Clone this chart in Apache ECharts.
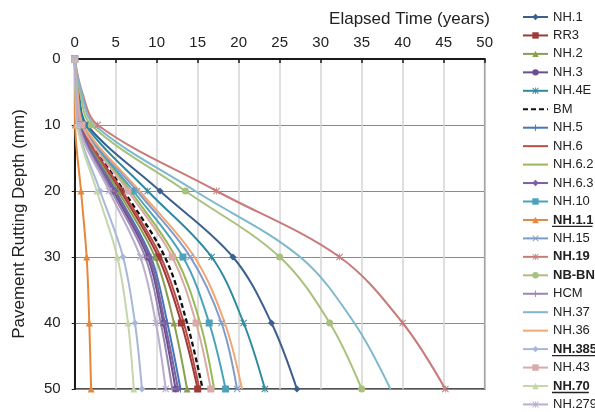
<!DOCTYPE html>
<html><head><meta charset="utf-8">
<script src="https://cdn.jsdelivr.net/npm/echarts@6/dist/echarts.min.js"></script>
<style>html,body{margin:0;padding:0;background:#fff}#c{width:595px;height:412px}</style>
</head><body><div id="c"></div>
<script>
// Rutting depth (mm) at which elapsed times were read
const depths = [0, 5, 10, 20, 30, 40, 50];
const xTicks = [0, 5, 10, 15, 20, 25, 30, 35, 40, 45, 50];
const yTicks = [0, 10, 20, 30, 40, 50];

const seriesNames = ["NH.1","RR3","NH.2","NH.3","NH.4E","BM","NH.5","NH.6","NH.6.2","NH.6.3","NH.10","NH.1.1","NH.15","NH.19","NB-BN","HCM","NH.37","NH.36","NH.385","NH.43","NH.70","NH.279"];

// Elapsed time (years) for each depth above
const nh1   = [0, 0.5, 1.5, 10.4, 19.3, 24.0, 27.1];
const rr3   = [0, 0.25, 0.7, 5.6, 10.2, 13.0, 15.0];
const nh2   = [0, 0.2, 0.65, 5.3, 9.8, 12.1, 13.7];
const nh3   = [0, 0.18, 0.55, 4.7, 8.9, 10.8, 12.3];
const nh4e  = [0, 0.45, 1.3, 8.9, 16.7, 20.6, 23.2];
const bm    = [0, 0.27, 0.8, 6.0, 11.0, 13.7, 15.6];
const nh5   = [0, 0.2, 0.6, 5.0, 9.3, 11.3, 12.9];
const nh6   = [0, 0.26, 0.75, 5.8, 10.5, 13.3, 15.2];
const nh62  = [0, 0.3, 0.9, 6.8, 12.3, 15.3, 17.0];
const nh63  = [0, 0.2, 0.6, 4.9, 9.1, 11.0, 12.6];
const nh10  = [0, 0.32, 0.95, 7.15, 13.2, 16.4, 18.4];
const nh11  = [0, 0.02, 0.05, 0.77, 1.46, 1.78, 2.0];
const nh15  = [0, 0.33, 1.0, 7.6, 14.1, 17.9, 19.8];
const nh19  = [0, 0.9, 2.8, 17.3, 32.3, 40.0, 45.2];
const nbbn  = [0, 0.65, 2.0, 13.5, 25.0, 31.1, 35.0];
const hcm   = [0, 0.17, 0.5, 4.5, 8.6, 10.5, 11.9];
const nh37  = [0, 0.8, 2.4, 14.7, 27.5, 34.1, 38.5];
const nh36  = [0, 0.35, 1.05, 7.9, 14.6, 18.3, 20.4];
const nh385 = [0, 0.12, 0.35, 3.1, 5.9, 7.35, 8.2];
const nh43  = [0, 0.28, 0.85, 6.5, 11.9, 14.8, 16.6];
const nh70  = [0, 0.1, 0.3, 2.7, 5.2, 6.5, 7.2];
const nh279 = [0, 0.15, 0.45, 4.2, 8.0, 9.9, 11.1];

const seriesValues = [nh1, rr3, nh2, nh3, nh4e, bm, nh5, nh6, nh62, nh63, nh10, nh11, nh15, nh19, nbbn, hcm, nh37, nh36, nh385, nh43, nh70, nh279];

const PLUS = 'path://M4.3,0h1.4v4.3h4.3v1.4h-4.3v4.3h-1.4v-4.3h-4.3v-1.4h4.3z';
const CROSS = 'path://M1,0L5,4L9,0L10,1L6,5L10,9L9,10L5,6L1,10L0,9L4,5L0,1Z';
const STAR = 'path://M1,0L5,4L9,0L10,1L6,5L10,9L9,10L5,6L1,10L0,9L4,5L0,1Z M4.4,0h1.2v10h-1.2z';

const styles = [
  {c:'#3C5F90', s:'diamond'},
  {c:'#9E3B39', s:'rect'},
  {c:'#88A04E', s:'triangle'},
  {c:'#6C4F8B', s:'circle'},
  {c:'#2F8A9E', s:STAR},
  {c:'#111111', s:'none', dash:true},
  {c:'#4677B8', s:PLUS},
  {c:'#BE4B48', s:'none'},
  {c:'#98B954', s:'none'},
  {c:'#7D60A0', s:'diamond'},
  {c:'#4BA2BA', s:'rect'},
  {c:'#E6873B', s:'triangle'},
  {c:'#7E9CCB', s:CROSS},
  {c:'#C97B7A', s:STAR},
  {c:'#A9C17E', s:'circle'},
  {c:'#9887B4', s:PLUS},
  {c:'#7DB8CC', s:'none'},
  {c:'#F2A673', s:'none'},
  {c:'#A8B8D8', s:'diamond'},
  {c:'#D8AAA8', s:'rect'},
  {c:'#C5D6AC', s:'triangle'},
  {c:'#B9AECF', s:STAR}
];
const boldNames = ["NH.1.1","NH.19","NB-BN","NH.385","NH.70"];
const underlineNames = ["NH.1.1","NH.385","NH.70"];

const FONT = 'Liberation Sans, Arial, Helvetica, sans-serif';
const TXT = '#222';

const series = seriesNames.map((name, i) => {
  const st = styles[i];
  const data = depths.map((d, k) => {
    const item = {value: [seriesValues[i][k], d]};
    if (d % 10 !== 0) item.symbol = 'none';
    return item;
  });
  return {
    name, type: 'line', data, smooth: 0.35,
    symbol: st.s === 'none' ? 'circle' : st.s, symbolSize: 7,
    showSymbol: st.s !== 'none',
    itemStyle: {color: st.c},
    lineStyle: {color: st.c, width: st.dash ? 2.3 : 2, type: st.dash ? [5, 3] : 'solid'},
    emphasis: {disabled: true},
    animation: false
  };
});

const legendLeft = 522, legendTop = 10, itemW = 25, itemH = 8, lineH = 14, itemGap = 4.45;
const legendFont = 13;
const legendData = seriesNames.map((n, i) => styles[i].s === 'none'
  ? {name: n, itemStyle: {opacity: 0}} : {name: n});

const chart = echarts.init(document.getElementById('c'), null, {renderer: 'canvas'});

const ctx = document.createElement('canvas').getContext('2d');
ctx.font = 'bold ' + legendFont + 'px ' + FONT;
const graphics = underlineNames.map(n => {
  const idx = seriesNames.indexOf(n);
  const yc = legendTop + lineH / 2 + idx * (lineH + itemGap);
  const x0 = legendLeft + itemW + 5;
  const w = ctx.measureText(n).width;
  return {type: 'line', silent: true, z: 100,
    shape: {x1: x0, y1: yc + 6.5, x2: x0 + w, y2: yc + 6.5},
    style: {stroke: TXT, lineWidth: 1.3}};
});

chart.setOption({
  animation: false,
  backgroundColor: '#fff',
  textStyle: {fontFamily: FONT},
  title: {text: 'Elapsed Time (years)', right: 105, top: 11, padding: 0,
    textStyle: {fontSize: 17, fontWeight: 'normal', color: TXT, fontFamily: FONT}},
  grid: {left: 74.7, right: 110.3, top: 59, bottom: 23, show: true, borderColor: '#1a1a1a', borderWidth: 1.5, containLabel: false},
  xAxis: {
    type: 'value', position: 'top', min: 0, max: 50, interval: 5,
    axisLine: {show: true, lineStyle: {color: '#1a1a1a', width: 2}},
    axisTick: {show: true, inside: true, length: 4, lineStyle: {color: '#1a1a1a', width: 1.5}},
    axisLabel: {fontSize: 15, color: TXT, margin: 9, fontFamily: FONT,
      formatter: v => xTicks.includes(v) ? String(v) : ''},
    splitLine: {show: true, lineStyle: {color: '#d4d4d4', width: 1.5}}
  },
  yAxis: {
    type: 'value', inverse: true, min: 0, max: 50, interval: 10,
    name: 'Pavement Rutting Depth (mm)', nameLocation: 'middle', nameGap: 47,
    nameTextStyle: {fontSize: 17, color: TXT, fontFamily: FONT},
    axisLine: {show: true, lineStyle: {color: '#1a1a1a', width: 2}},
    axisTick: {show: true, length: 3, lineStyle: {color: '#1a1a1a'}},
    axisLabel: {fontSize: 15, color: TXT, margin: 14, fontFamily: FONT,
      formatter: v => yTicks.includes(v) ? String(v) : ''},
    splitLine: {show: true, lineStyle: {color: '#8a8a8a', width: 1}}
  },
  legend: {
    orient: 'vertical', left: legendLeft, top: legendTop, padding: 0,
    itemWidth: itemW, itemHeight: itemH, itemGap: itemGap,
    data: legendData,
    textStyle: {fontSize: legendFont, lineHeight: lineH, color: TXT, fontFamily: FONT,
      rich: {b: {fontSize: legendFont, lineHeight: lineH, fontWeight: 'bold', color: TXT, fontFamily: FONT}}},
    formatter: n => boldNames.includes(n) ? '{b|' + n + '}' : n,
    selectedMode: false
  },
  graphic: graphics,
  series
});
</script></body></html>
